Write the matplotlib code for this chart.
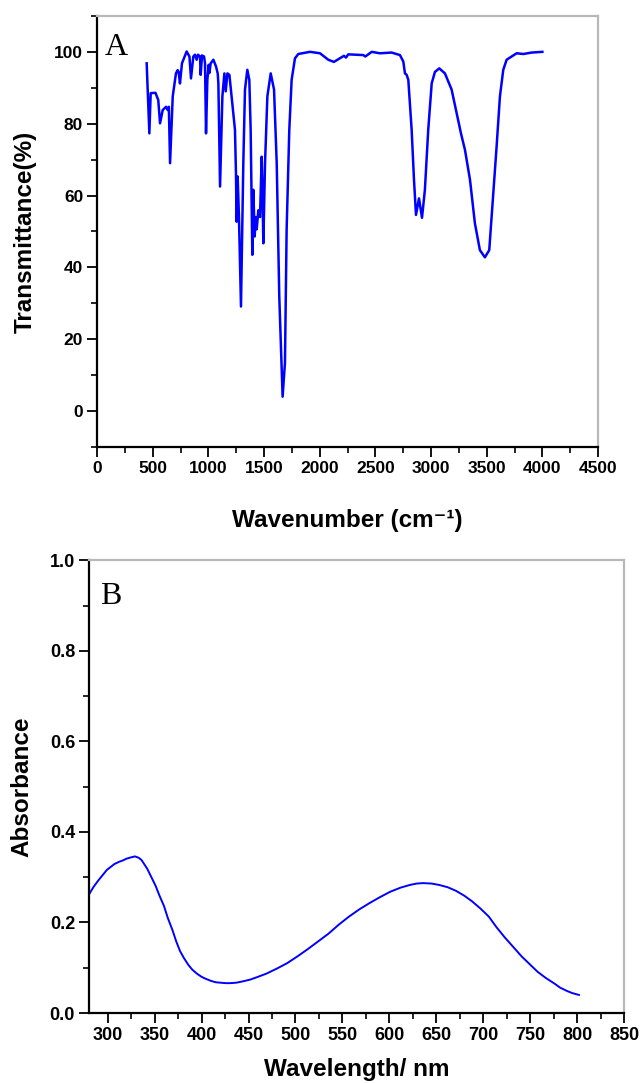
import matplotlib
matplotlib.use('Agg')
import matplotlib.pyplot as plt
from matplotlib.ticker import MultipleLocator

# FTIR spectrum (panel A)
wavenumber = [446, 470, 482, 525, 550, 566, 590, 620, 635, 645, 656, 680, 709, 724, 733,
              745, 763, 805, 830, 844, 865, 880, 895, 907, 925, 931, 943, 961, 970, 979,
              991, 1003, 1009, 1021, 1045, 1069, 1084, 1090, 1105, 1126, 1144, 1156, 1171,
              1189, 1209, 1224, 1239, 1248, 1254, 1263, 1275, 1293, 1314, 1329, 1350, 1368,
              1380, 1395, 1404, 1416, 1425, 1434, 1449, 1464, 1479, 1485, 1494, 1509, 1530,
              1560, 1590, 1614, 1637, 1667, 1688, 1703, 1727, 1748, 1778, 1808, 1913, 2003,
              2077, 2128, 2182, 2218, 2236, 2257, 2392, 2410, 2467, 2541, 2646, 2721, 2751,
              2766, 2781, 2796, 2826, 2847, 2865, 2892, 2919, 2945, 2975, 3006, 3035, 3074,
              3125, 3185, 3230, 3269, 3305, 3350, 3394, 3439, 3484, 3523, 3553, 3589, 3619,
              3649, 3679, 3724, 3769, 3829, 3904, 4000]
transmittance = [96.8, 77.3, 88.5, 88.6, 86.6, 80.1, 83.8, 84.7, 83.8, 84.7, 69.0, 87.6, 94.0,
                 94.9, 94.4, 91.2, 96.8, 100.1, 98.7, 92.6, 98.7, 99.2, 97.8, 99.2, 98.7, 93.6,
                 99.0, 98.7, 96.8, 77.3, 92.2, 96.4, 94.1, 96.8, 97.8, 95.9, 94.0, 91.2, 62.5,
                 87.6, 94.0, 89.0, 94.0, 93.6, 87.6, 83.4, 78.3, 66.2, 52.7, 65.3, 54.0, 29.1,
                 69.0, 89.5, 95.0, 92.2, 78.3, 43.5, 61.6, 48.6, 54.0, 50.6, 55.9, 54.0, 70.8,
                 62.5, 46.7, 69.0, 87.6, 94.0, 89.5, 69.0, 31.9, 4.0, 13.4, 50.4, 78.3, 92.2,
                 98.2, 99.4, 100.0, 99.6, 97.8, 97.2, 98.2, 98.9, 98.4, 99.3, 99.1, 98.7, 100.0,
                 99.6, 99.8, 99.1, 97.3, 94.0, 93.6, 92.2, 78.3, 64.4, 54.6, 59.2, 53.8, 61.6,
                 78.3, 91.2, 94.4, 95.4, 94.0, 89.5, 83.0, 77.3, 72.7, 64.4, 52.3, 44.8, 42.8,
                 44.8, 57.8, 73.6, 87.6, 95.0, 97.8, 98.7, 99.6, 99.4, 99.8, 100.0]

# UV-Vis spectrum (panel B)
wavelength = [280, 285, 290, 299, 307, 312, 316, 320, 325, 329, 333, 336, 342, 347, 351, 355,
              360, 364, 369, 373, 377, 381, 386, 390, 395, 400, 404, 410, 415, 420, 426, 430,
              437, 444, 452, 460, 469, 480, 491, 502, 513, 524, 535, 546, 557, 568, 579, 590,
              601, 612, 622, 629, 636, 645, 653, 662, 671, 680, 688, 697, 706, 714, 723, 732,
              741, 750, 758, 767, 776, 782, 789, 795, 802]
absorbance = [0.262, 0.279, 0.293, 0.316, 0.329, 0.334, 0.337, 0.341, 0.344, 0.346, 0.343,
              0.338, 0.319, 0.298, 0.281, 0.260, 0.236, 0.210, 0.183, 0.158, 0.137, 0.122,
              0.106, 0.096, 0.087, 0.080, 0.076, 0.071, 0.068, 0.067, 0.066, 0.066, 0.067,
              0.070, 0.074, 0.080, 0.087, 0.098, 0.110, 0.125, 0.141, 0.158, 0.175, 0.195,
              0.213, 0.229, 0.243, 0.256, 0.268, 0.277, 0.283, 0.286, 0.287, 0.286, 0.283,
              0.278, 0.270, 0.259, 0.247, 0.231, 0.213, 0.190, 0.167, 0.146, 0.125, 0.107,
              0.091, 0.077, 0.065, 0.056, 0.049, 0.044, 0.040]

sans = ['Liberation Sans', 'DejaVu Sans']
serif = ['Liberation Serif', 'DejaVu Serif']
plt.rcParams['font.family'] = sans
plt.rcParams['font.weight'] = 'bold'


def style_axes(ax, tick_size):
    for side in ['left', 'bottom']:
        ax.spines[side].set_color('black')
        ax.spines[side].set_linewidth(1.6)
    for side in ['top', 'right']:
        ax.spines[side].set_color('#b8b8b8')
        ax.spines[side].set_linewidth(1.6)
    ax.tick_params(which='major', direction='out', length=7, width=1.3,
                   labelsize=tick_size, pad=3, top=False, right=False)
    ax.tick_params(which='minor', direction='out', length=4, width=1.2,
                   top=False, right=False)
    for lab in ax.get_xticklabels() + ax.get_yticklabels():
        lab.set_fontweight('bold')


fig = plt.figure(figsize=(6.4, 10.83), dpi=100)

# panel A
ax1 = fig.add_axes([0.1516, 0.5873, 0.7828, 0.398])
ax1.plot(wavenumber, transmittance, color='#0000ff', lw=1.8)
ax1.set_xlim(0, 4500)
ax1.set_ylim(-10, 110)
ax1.set_xticks(range(0, 4501, 500))
ax1.set_yticks(range(0, 101, 20))
ax1.xaxis.set_minor_locator(MultipleLocator(250))
ax1.yaxis.set_minor_locator(MultipleLocator(10))
style_axes(ax1, 12.5)
ax1.set_xlabel('Wavenumber (cm\u207b\u00b9)', fontsize=17.5, fontweight='bold')
ax1.set_ylabel('Transmittance(%)', fontsize=17.5, fontweight='bold')
ax1.xaxis.set_label_coords(0.5, -0.145)
ax1.yaxis.set_label_coords(-0.12, 0.5)
ax1.text(0.016, 0.91, 'A', transform=ax1.transAxes, fontsize=23,
         family=serif, fontweight='normal')

# panel B
ax2 = fig.add_axes([0.139, 0.0646, 0.836, 0.418])
ax2.plot(wavelength, absorbance, color='#0000ff', lw=1.4)
ax2.set_xlim(280, 850)
ax2.set_ylim(0, 1.0)
ax2.set_xticks(range(300, 851, 50))
ax2.set_yticks([0.0, 0.2, 0.4, 0.6, 0.8, 1.0])
ax2.set_yticklabels(['0.0', '0.2', '0.4', '0.6', '0.8', '1.0'])
ax2.xaxis.set_minor_locator(MultipleLocator(25))
ax2.yaxis.set_minor_locator(MultipleLocator(0.1))
style_axes(ax2, 13)
ax2.set_xlabel('Wavelength/ nm', fontsize=17.5, fontweight='bold')
ax2.set_ylabel('Absorbance', fontsize=17.5, fontweight='bold')
ax2.xaxis.set_label_coords(0.5, -0.1)
ax2.yaxis.set_label_coords(-0.103, 0.5)
ax2.text(0.02, 0.904, 'B', transform=ax2.transAxes, fontsize=23,
         family=serif, fontweight='normal')

fig.savefig('out.png', dpi=100)
